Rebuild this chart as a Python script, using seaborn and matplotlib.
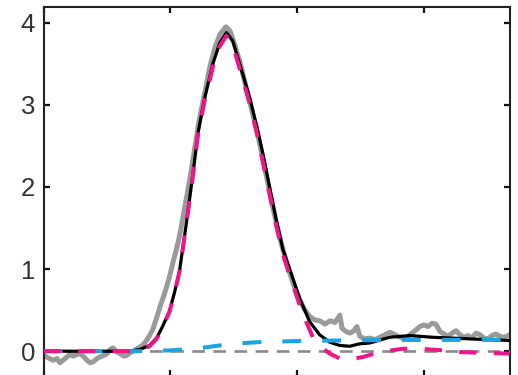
import matplotlib
matplotlib.use("Agg")
import matplotlib.pyplot as plt
import seaborn as sns

# ---------------- data ----------------
# noisy measured trace (gray)
data_x = [0.004, 0.035, 0.075, 0.106, 0.130, 0.162, 0.185, 0.209, 0.233, 0.264,
          0.288, 0.319, 0.343, 0.367, 0.390, 0.422, 0.446, 0.477, 0.501, 0.524,
          0.548, 0.580, 0.603, 0.635, 0.659, 0.682, 0.706, 0.738, 0.761, 0.793,
          0.816, 0.840, 0.863, 0.887, 0.903, 0.927, 0.950, 0.974, 0.998, 1.021,
          1.045, 1.061, 1.085, 1.108, 1.132, 1.155, 1.179, 1.203, 1.226, 1.250,
          1.274, 1.313, 1.353, 1.392, 1.439, 1.471, 1.510, 1.550, 1.597, 1.644,
          1.692, 1.739, 1.786, 1.833, 1.881, 1.928, 1.975, 2.023, 2.062, 2.101,
          2.141, 2.180, 2.220, 2.259, 2.299, 2.338, 2.354, 2.386, 2.417, 2.449,
          2.472, 2.496, 2.535, 2.575, 2.614, 2.654, 2.693, 2.733, 2.772, 2.812,
          2.851, 2.890, 2.930, 2.969, 3.001, 3.032, 3.064, 3.095, 3.127, 3.158,
          3.190, 3.222, 3.253, 3.285, 3.316, 3.348, 3.379, 3.411, 3.443, 3.474,
          3.506, 3.537, 3.568, 3.600, 3.632, 3.663, 3.677]
data_y = [-0.05, -0.08, -0.11, -0.09, -0.14, -0.10, -0.07, -0.04, -0.06, -0.04,
          -0.03, -0.07, -0.11, -0.14, -0.13, -0.09, -0.07, -0.05, -0.03, 0.02,
          0.04, -0.01, -0.03, -0.06, -0.05, -0.02, 0.00, 0.03, 0.05, 0.09,
          0.14, 0.20, 0.27, 0.38, 0.46, 0.58, 0.68, 0.80, 0.93, 1.08,
          1.22, 1.32, 1.50, 1.70, 1.90, 2.10, 2.34, 2.57, 2.80, 2.98,
          3.16, 3.47, 3.70, 3.86, 3.95, 3.90, 3.72, 3.52, 3.22, 2.93,
          2.62, 2.28, 1.92, 1.58, 1.28, 1.02, 0.80, 0.62, 0.50, 0.42,
          0.38, 0.37, 0.33, 0.37, 0.35, 0.44, 0.28, 0.24, 0.22, 0.25,
          0.30, 0.18, 0.15, 0.16, 0.14, 0.17, 0.20, 0.23, 0.20, 0.17,
          0.15, 0.20, 0.25, 0.30, 0.32, 0.30, 0.34, 0.33, 0.24, 0.21,
          0.18, 0.22, 0.25, 0.20, 0.17, 0.19, 0.16, 0.22, 0.20, 0.16,
          0.15, 0.19, 0.21, 0.18, 0.17, 0.19, 0.20]

# total fit (black)
fit_x = [0.000, 0.205, 0.442, 0.679, 0.758, 0.837, 0.892, 0.939, 0.994, 1.034,
         1.073, 1.126, 1.178, 1.218, 1.271, 1.336, 1.389, 1.442, 1.492, 1.547,
         1.626, 1.691, 1.731, 1.770, 1.837, 1.890, 1.942, 2.021, 2.099, 2.178,
         2.257, 2.336, 2.415, 2.494, 2.573, 2.731, 2.889, 3.064, 3.363, 3.677]
fit_y = [0.00, 0.00, 0.00, 0.00, 0.02, 0.07, 0.16, 0.30, 0.49, 0.72,
         0.98, 1.55, 2.15, 2.65, 3.08, 3.50, 3.75, 3.88, 3.78, 3.50,
         3.09, 2.68, 2.40, 2.10, 1.59, 1.23, 1.00, 0.64, 0.36, 0.20,
         0.11, 0.07, 0.06, 0.09, 0.10, 0.17, 0.19, 0.17, 0.15, 0.13]

# peak component (magenta)
peak_x = [0.000, 0.205, 0.442, 0.679, 0.758, 0.837, 0.892, 0.939, 0.994, 1.034,
          1.073, 1.126, 1.178, 1.218, 1.271, 1.336, 1.389, 1.442, 1.492, 1.547,
          1.626, 1.691, 1.731, 1.770, 1.837, 1.890, 1.942, 2.021, 2.074, 2.125,
          2.180, 2.259, 2.338, 2.417, 2.520, 2.654, 2.835, 2.969, 3.151, 3.285,
          3.466, 3.677]
peak_y = [0.00, 0.00, 0.00, 0.00, 0.01, 0.06, 0.15, 0.29, 0.48, 0.71,
          0.97, 1.54, 2.13, 2.63, 3.05, 3.46, 3.71, 3.84, 3.73, 3.44,
          3.02, 2.60, 2.30, 2.01, 1.52, 1.17, 0.92, 0.56, 0.35, 0.17,
          0.06, -0.03, -0.09, -0.10, -0.07, -0.01, 0.03, 0.03, 0.01, -0.01,
          -0.02, -0.03]

# baseline component (cyan)
base_x = [0.00, 0.60, 0.76, 0.84, 1.00, 1.20, 1.39, 1.55, 1.69, 2.02, 2.50, 3.00, 3.677]
base_y = [0.00, 0.00, 0.00, 0.005, 0.01, 0.03, 0.07, 0.095, 0.11, 0.125, 0.133, 0.137, 0.14]

# zero reference (gray dashed)
zero_x = [0.0, 3.677]
zero_y = [0.0, 0.0]

y_ticks = [0, 1, 2, 3, 4]
x_ticks = [0, 1, 2, 3]

# ---------------- figure ----------------
sns.set_theme(style="ticks")
plt.rcParams["font.family"] = ["Liberation Sans", "DejaVu Sans"]

fig = plt.figure(figsize=(5.18, 3.75), dpi=100)
ax = fig.add_axes([43.5 / 518, 1 - 376 / 375, 466.2 / 518, (376 - 6.7) / 375])

sns.lineplot(x=data_x, y=data_y, ax=ax, color="#9a9a9a", lw=3.6, sort=False,
             errorbar=None, zorder=2)
sns.lineplot(x=zero_x, y=zero_y, ax=ax, color="#8a8a8a", lw=1.9,
             linestyle=(0, (4.8, 3.2)), errorbar=None, zorder=3)
sns.lineplot(x=fit_x, y=fit_y, ax=ax, color="black", lw=2.3, errorbar=None, zorder=4)
sns.lineplot(x=base_x, y=base_y, ax=ax, color="#1ca3e4", lw=2.9,
             linestyle=(0, (4.7, 5.2)), errorbar=None, zorder=5)
sns.lineplot(x=peak_x, y=peak_y, ax=ax, color="#ee1689", lw=2.9,
             linestyle=(0, (4.3, 4.3)), errorbar=None, zorder=6)

ax.set_xlim(0, 3.677)
ax.set_ylim(-0.302, 4.195)
ax.set_xticks(x_ticks)
ax.set_yticks(y_ticks)
ax.set_xticklabels([])
ax.set_yticklabels([str(t) for t in y_ticks])
ax.set_xlabel("")
ax.set_ylabel("")

for s in ax.spines.values():
    s.set_visible(True)
    s.set_linewidth(1.5)
    s.set_color("#222222")

ax.tick_params(axis="both", which="major", direction="in", length=4, width=1.6,
               color="#111111", top=True, right=True, labelsize=18.5,
               labelcolor="#333333", pad=6)

fig.savefig("out.png", dpi=100)
